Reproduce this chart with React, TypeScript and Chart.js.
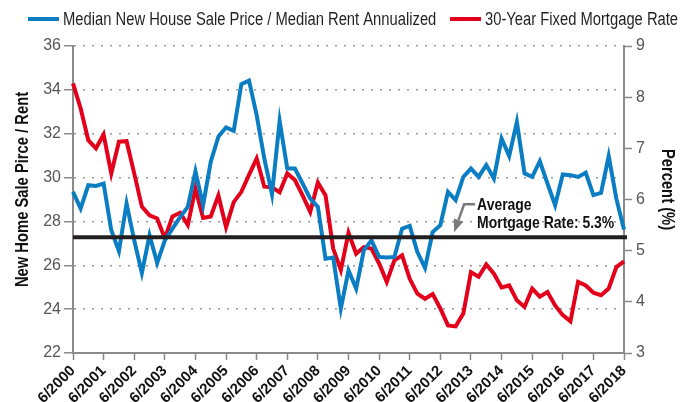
import React, { useEffect, useRef } from 'react';
import { Chart, registerables } from 'chart.js';

Chart.register(...registerables);

// ---------- data ----------
const START_YEAR = 2000;
const START_MONTH = 6;
const quarterLabels: string[] = Array.from({ length: 73 }, (_, i) => {
  const m = START_MONTH + 3 * i;
  const year = START_YEAR + Math.floor((m - 1) / 12);
  const month = ((m - 1) % 12) + 1;
  return `${month}/${year}`;
});

const priceToRent = [
  29.35, 28.59, 29.65, 29.62, 29.73, 27.6, 26.65, 28.82, 27.14, 25.65,
  27.37, 26.11, 27.14, 27.67, 28.2, 28.66, 30.29, 28.74, 30.72, 31.86,
  32.29, 32.13, 34.26, 34.42, 32.85, 30.87, 29.24, 32.58, 30.41, 30.41,
  29.73, 29.04, 28.66, 26.3, 26.35, 24.02, 25.77, 24.93, 26.68, 27.14,
  26.38, 26.35, 26.38, 27.67, 27.8, 26.6, 25.88, 27.52, 27.83, 29.35,
  28.97, 30.03, 30.41, 30.03, 30.57, 29.96, 31.78, 30.98, 32.54, 30.19,
  30.03, 30.75, 29.73, 28.74, 30.14, 30.11, 30.03, 30.22, 29.2, 29.3,
  30.98, 29.04, 27.63,
];

const mortgageRate = [
  8.27, 7.78, 7.16, 7.0, 7.27, 6.51, 7.13, 7.14, 6.51, 5.86,
  5.69, 5.63, 5.24, 5.67, 5.74, 5.5, 6.21, 5.64, 5.67, 6.08,
  5.46, 5.95, 6.15, 6.48, 6.8, 6.25, 6.24, 6.14, 6.51, 6.38,
  6.08, 5.76, 6.33, 6.08, 5.04, 4.62, 5.35, 4.94, 5.07, 5.04,
  4.75, 4.39, 4.81, 4.91, 4.45, 4.16, 4.06, 4.15, 3.87, 3.54,
  3.52, 3.77, 4.58, 4.49, 4.73, 4.55, 4.28, 4.32, 4.03, 3.9,
  4.26, 4.1, 4.19, 3.93, 3.74, 3.62, 4.39, 4.32, 4.18, 4.13,
  4.26, 4.68, 4.79,
];

const averageRate = 5.26;
const seriesNames = [
  'Median New House Sale Price / Median Rent Annualized',
  '30-Year Fixed Mortgage Rate',
];
const annotationLines = ['Average', 'Mortgage Rate: 5.3%'];
const leftAxisTitle = 'New Home Sale Pirce / Rent';
const rightAxisTitle = 'Percent (%)';

// ---------- styles ----------
const BLUE = '#0b7dc2';
const RED = '#e2001a';
const SANS = "'Liberation Sans', Arial, sans-serif";
const AXIS_GRAY = '#8a8a8a';
const NARROW_X = 0.82; // horizontal compression to mimic a narrow face

function drawNarrowText(
  ctx: CanvasRenderingContext2D,
  text: string,
  x: number,
  y: number,
  font: string,
  align: CanvasTextAlign,
  baseline: CanvasTextBaseline,
  rotation = 0,
) {
  ctx.save();
  ctx.font = font;
  ctx.textAlign = align;
  ctx.textBaseline = baseline;
  ctx.translate(x, y);
  if (rotation) ctx.rotate(rotation);
  ctx.scale(NARROW_X, 1);
  ctx.fillText(text, 0, 0);
  ctx.restore();
}

const legendPlugin = {
  id: 'customLegend',
  afterDraw(chart: any) {
    const ctx = chart.ctx as CanvasRenderingContext2D;
    const colors = [BLUE, RED];
    const lineStarts = [28, 450];
    const y = 19;
    ctx.save();
    seriesNames.forEach((name, i) => {
      const x = lineStarts[i];
      ctx.strokeStyle = colors[i];
      ctx.lineWidth = 4;
      ctx.beginPath();
      ctx.moveTo(x, y);
      ctx.lineTo(x + 31, y);
      ctx.stroke();
      ctx.fillStyle = '#231f20';
      drawNarrowText(ctx, name, x + 35, y + 1, `18px ${SANS}`, 'left', 'middle');
    });
    ctx.restore();
  },
};

const axisTitlePlugin = {
  id: 'axisTitles',
  afterDraw(chart: any) {
    const ctx = chart.ctx as CanvasRenderingContext2D;
    const { top, bottom } = chart.chartArea;
    const cy = (top + bottom) / 2 - 10;
    ctx.save();
    ctx.fillStyle = '#111';
    drawNarrowText(ctx, leftAxisTitle, 23, cy, `bold 18px ${SANS}`, 'center', 'middle', -Math.PI / 2);
    drawNarrowText(ctx, rightAxisTitle, 667, cy, `bold 18px ${SANS}`, 'center', 'middle', Math.PI / 2);
    ctx.restore();
  },
};

const averagePlugin = {
  id: 'averageLine',
  afterDatasetsDraw(chart: any) {
    const ctx = chart.ctx as CanvasRenderingContext2D;
    const { left, right } = chart.chartArea;
    const yScale = chart.scales.y1;
    const xScale = chart.scales.x;
    const ay = yScale.getPixelForValue(averageRate);
    ctx.save();
    ctx.strokeStyle = '#231f20';
    ctx.lineWidth = 4;
    ctx.beginPath();
    ctx.moveTo(left, ay);
    ctx.lineTo(right + 3, ay);
    ctx.stroke();

    // arrow
    const tipX = xScale.getPixelForValue(49.8);
    const tipY = ay - 5;
    const elbowX = tipX + 10;
    const elbowY = ay - 33;
    const startX = elbowX + 11;
    const dx = tipX - elbowX;
    const dy = tipY - elbowY;
    const len = Math.sqrt(dx * dx + dy * dy);
    const ux = dx / len;
    const uy = dy / len;
    const headLen = 13;
    const half = 5;
    const bx = tipX - ux * headLen;
    const by = tipY - uy * headLen;
    ctx.strokeStyle = '#7a7a7a';
    ctx.fillStyle = '#7a7a7a';
    ctx.lineWidth = 2.5;
    ctx.beginPath();
    ctx.moveTo(startX, elbowY);
    ctx.lineTo(elbowX, elbowY);
    ctx.lineTo(bx, by);
    ctx.stroke();
    ctx.beginPath();
    ctx.moveTo(tipX, tipY);
    ctx.lineTo(bx - uy * half, by + ux * half);
    ctx.lineTo(bx + uy * half, by - ux * half);
    ctx.closePath();
    ctx.fill();

    ctx.fillStyle = '#111';
    const tx = startX + 2;
    drawNarrowText(ctx, annotationLines[0], tx, ay - 27, `bold 17px ${SANS}`, 'left', 'alphabetic');
    drawNarrowText(ctx, annotationLines[1], tx, ay - 9, `bold 17px ${SANS}`, 'left', 'alphabetic');
    ctx.restore();
  },
};

export default function App() {
  const canvasRef = useRef<HTMLCanvasElement | null>(null);

  useEffect(() => {
    const canvas = canvasRef.current;
    if (!canvas) return;
    const chart = new Chart(canvas, {
      type: 'line',
      data: {
        labels: quarterLabels,
        datasets: [
          {
            label: seriesNames[0],
            data: priceToRent,
            yAxisID: 'y',
            borderColor: BLUE,
            backgroundColor: BLUE,
            borderWidth: 4,
            pointRadius: 0,
            tension: 0,
            fill: false,
          },
          {
            label: seriesNames[1],
            data: mortgageRate,
            yAxisID: 'y1',
            borderColor: RED,
            backgroundColor: RED,
            borderWidth: 4,
            pointRadius: 0,
            tension: 0,
            fill: false,
          },
        ],
      },
      options: {
        animation: false,
        responsive: false,
        devicePixelRatio: 1,
        layout: { padding: { left: 9, right: 0, top: 46, bottom: 0 } },
        plugins: {
          legend: { display: false },
          tooltip: { enabled: false },
        },
        scales: {
          x: {
            type: 'category',
            ticks: {
              autoSkip: false,
              maxRotation: 45,
              minRotation: 45,
              color: '#111',
              padding: 2,
              font: { family: SANS, size: 15, weight: 'bold' },
              callback: (_v: any, i: number) => (i % 4 === 0 ? quarterLabels[i] : ''),
            },
            grid: {
              drawOnChartArea: false,
              drawTicks: true,
              tickLength: 7,
              tickWidth: 1.5,
              tickColor: (c: any) => (c.index % 4 === 0 ? AXIS_GRAY : 'rgba(0,0,0,0)'),
            },
            border: { display: true, color: AXIS_GRAY, width: 2 },
            afterFit: (s: any) => {
              s.height = 49;
            },
          },
          y: {
            position: 'left',
            min: 22,
            max: 36,
            ticks: {
              stepSize: 2,
              color: '#555',
              padding: 3,
              font: { family: SANS, size: 16 },
            },
            grid: {
              color: '#9a9a9a',
              lineWidth: 1.5,
              tickLength: 9,
              tickWidth: 1.5,
              tickColor: AXIS_GRAY,
              tickBorderDash: [],
            },
            border: { display: true, color: AXIS_GRAY, width: 2, dash: [2, 7] },
            title: { display: false, text: leftAxisTitle },
            afterFit: (s: any) => {
              s.width = 64;
            },
          },
          y1: {
            position: 'right',
            min: 3,
            max: 9,
            ticks: {
              stepSize: 1,
              color: '#555',
              padding: 4,
              font: { family: SANS, size: 16 },
            },
            grid: {
              drawOnChartArea: false,
              tickLength: 8,
              tickWidth: 1.5,
              tickColor: AXIS_GRAY,
            },
            border: { display: true, color: AXIS_GRAY, width: 2 },
            title: { display: false, text: rightAxisTitle },
            afterFit: (s: any) => {
              s.width = 56;
            },
          },
        },
      } as any,
      plugins: [legendPlugin, axisTitlePlugin, averagePlugin],
    });
    return () => chart.destroy();
  }, []);

  return (
    <div style={{ position: 'absolute', left: 0, top: 0, width: 680, height: 402, background: '#fff' }}>
      <canvas ref={canvasRef} width={680} height={402} style={{ display: 'block' }} />
    </div>
  );
}
